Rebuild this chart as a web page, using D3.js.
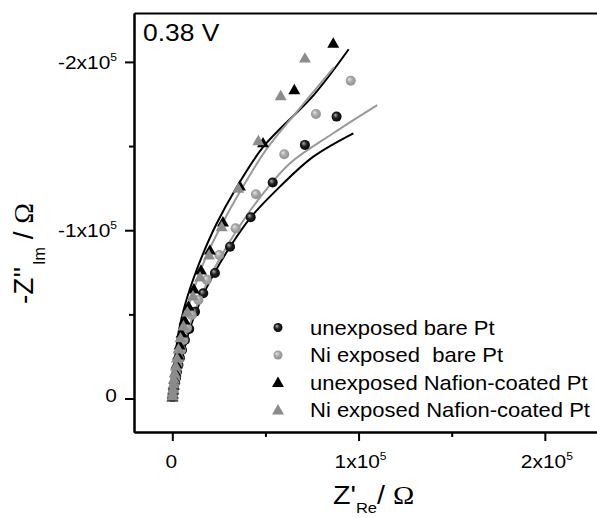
<!DOCTYPE html>
<html>
<head>
<meta charset="utf-8">
<script src="https://d3js.org/d3.v7.min.js"></script>
<style>
body { margin: 0; background: #fff; }
svg { display: block; font-family: "Liberation Sans", Arial, sans-serif; }
text { white-space: pre; }
</style>
</head>
<body>
<svg width="597" height="518"></svg>
<script>
// unexposed bare Pt
var bareUnexpZr = [88200, 71200, 53900, 42100, 31000, 22900, 16600, 12200, 9100, 6800, 5200, 4100, 3300, 2500, 2000, 1400, 900, 600, 400, 100];
var bareUnexpZi = [-167500, -150700, -128300, -107700, -90200, -74600, -62500, -51600, -41300, -34800, -28800, -24100, -19900, -15700, -12200, -9200, -6200, -3900, -2100, -900];
// Ni exposed bare Pt
var bareNiZr = [95800, 77100, 60100, 44900, 34000, 25200, 18500, 14000, 10400, 7900, 6000, 4700, 3600, 2800, 2000, 1500, 900, 500, 300, 100];
var bareNiZi = [-188800, -169000, -145100, -121400, -101100, -85300, -70500, -58600, -49600, -41900, -34800, -28800, -23500, -19300, -15200, -11600, -8000, -5100, -2700, -900];
// unexposed Nafion-coated Pt
var nafUnexpZr = [86400, 65500, 48700, 36300, 27200, 20200, 15400, 11600, 8700, 6600, 5000, 3900, 3100, 2300, 1700, 1200, 800, 500, 300, 100];
var nafUnexpZi = [-211100, -183500, -151900, -126300, -104900, -88200, -76300, -65100, -54900, -46600, -38900, -31800, -25800, -20500, -15700, -11600, -8000, -5100, -2700, -900];
// Ni exposed Nafion-coated Pt
var nafNiZr = [71200, 58200, 46200, 35400, 26500, 19700, 14900, 11100, 8100, 6000, 4400, 3300, 2500, 1900, 1300, 900, 600, 400, 200, 100];
var nafNiZi = [-202300, -179900, -153200, -124900, -102100, -85300, -72200, -60900, -51400, -43100, -36000, -29400, -24100, -19300, -15200, -11600, -8600, -5600, -3300, -1500];

// fitted curves
var fitNafUnexpZr = [94700, 75900, 48900, 33700, 23900, 16600, 11100, 6800, 3600, 1700, 600, 100, 0];
var fitNafUnexpZi = [-207500, -180300, -149600, -123900, -104100, -86300, -70400, -55500, -40700, -25900, -14000, -5100, -300];
var fitNafNiZr = [86800, 68500, 50300, 35300, 25600, 18100, 12700, 8400, 5200, 2500, 1200, 400, 100];
var fitNafNiZi = [-196800, -172600, -147700, -120900, -101300, -84100, -68600, -53800, -39500, -25300, -13400, -5100, -300];
var fitBareNiZr = [110000, 86400, 63200, 45300, 33700, 25100, 18100, 12700, 8400, 5200, 2800, 900, 100];
var fitBareNiZi = [-174300, -157600, -139800, -116900, -98300, -82300, -67500, -53800, -40700, -28800, -16900, -6800, -300];
var fitBareUnexpZr = [97200, 75700, 57800, 41700, 31000, 22900, 17000, 12700, 9200, 6300, 3600, 1400, 100];
var fitBareUnexpZi = [-157600, -143700, -125900, -107100, -90200, -75200, -62700, -51400, -40700, -28800, -16900, -6800, -300];

var legendLabels = ["unexposed bare Pt", "Ni exposed  bare Pt", "unexposed Nafion-coated Pt", "Ni exposed Nafion-coated Pt"];
var xTicks = [0, 100000, 200000];
var xMinor = [50000, 150000];
var yTicks = [0, -100000, -200000];
var yMinor = [-50000, -150000];

var svg = d3.select("svg");

var x = d3.scaleLinear().domain([-20560, 238200]).range([134, 616]);
var y = d3.scaleLinear().domain([19900, -229060]).range([432, 13]);

function zip(a, b) { return a.map(function(v, i) { return [v, b[i]]; }); }

// text is a bit wider than normal in the original
function label(g, px, py, size, anchor) {
    return g.append("text")
        .attr("transform", "translate(" + px + "," + py + ") scale(1.1,1)")
        .attr("font-size", size)
        .attr("text-anchor", anchor || "start");
}

function tickText(t, v) {
    if (v == 0) { t.text("0"); return; }
    var n = v / 100000;
    t.append("tspan").text((n < 0 ? "-" : "") + Math.abs(n) + "x10");
    t.append("tspan").attr("font-size", 11).attr("dy", -8).text("5");
}

var defs = svg.append("defs");
function sphere(id, hi, mid, lo) {
    var gr = defs.append("radialGradient").attr("id", id)
        .attr("cx", "0.5").attr("cy", "0.5").attr("r", "0.6")
        .attr("fx", "0.35").attr("fy", "0.32");
    gr.append("stop").attr("offset", "0").attr("stop-color", hi);
    gr.append("stop").attr("offset", "0.45").attr("stop-color", mid);
    gr.append("stop").attr("offset", "1").attr("stop-color", lo);
}
sphere("ballBlack", "#b0b0b0", "#202020", "#000");
sphere("ballGray", "#e4e4e4", "#a8a8a8", "#8a8a8a");

// axes
var axisG = svg.append("g").attr("stroke-width", 2);
axisG.append("g").attr("transform", "translate(0,432)")
    .call(d3.axisBottom(x).tickValues(xTicks).tickSize(9).tickSizeOuter(0).tickFormat(""));
axisG.append("g").attr("transform", "translate(0,432)")
    .call(d3.axisBottom(x).tickValues(xMinor).tickSize(5).tickSizeOuter(0).tickFormat(""));
axisG.append("g").attr("transform", "translate(134,0)")
    .call(d3.axisLeft(y).tickValues(yTicks).tickSize(9).tickSizeOuter(0).tickFormat(""));
axisG.append("g").attr("transform", "translate(134,0)")
    .call(d3.axisLeft(y).tickValues(yMinor).tickSize(5).tickSizeOuter(0).tickFormat(""));
axisG.append("g").attr("transform", "translate(0,13)")
    .call(d3.axisTop(x).tickValues([]).tickSizeOuter(0));
axisG.selectAll("path, line").attr("stroke", "#000").attr("stroke-width", 2);

var labels = svg.append("g").attr("fill", "#000");
xTicks.forEach(function(v) {
    tickText(label(labels, x(v) + (v == 0 ? -1 : 2), 468, 19, "middle"), v);
});
yTicks.forEach(function(v) {
    tickText(label(labels, 117, y(v) + (v == 0 ? 3 : 7), 19, "end"), v);
});

// axis titles
var xt = label(labels, 333, 504, 26);
xt.append("tspan").text("Z'");
xt.append("tspan").attr("font-size", 15).attr("dy", 9).text("Re");
xt.append("tspan").attr("dy", -9).text("/ ");
xt.append("tspan").attr("font-family", "Liberation Serif, serif").text("Ω");

var yt = labels.append("text")
    .attr("transform", "translate(33,304) rotate(-90)")
    .attr("font-size", 28);
yt.append("tspan").text("-Z''");
yt.append("tspan").attr("font-size", 16).attr("dy", 12).attr("dx", 2).text("Im");
yt.append("tspan").attr("dy", -12).text(" / ");
yt.append("tspan").attr("font-family", "Liberation Serif, serif").text("Ω");

label(labels, 143, 41, 24).text("0.38 V");

// fitted lines go under the markers
var line = d3.line().x(function(d) { return x(d[0]); }).y(function(d) { return y(d[1]); })
    .curve(d3.curveCatmullRom);
var fits = [
    { d: zip(fitBareUnexpZr, fitBareUnexpZi), c: "#000" },
    { d: zip(fitBareNiZr, fitBareNiZi), c: "#999" },
    { d: zip(fitNafUnexpZr, fitNafUnexpZi), c: "#000" },
    { d: zip(fitNafNiZr, fitNafNiZi), c: "#999" }
];
svg.append("g").selectAll("path")
    .data(fits)
    .enter().append("path")
    .attr("d", function(f) { return line(f.d); })
    .attr("fill", "none")
    .attr("stroke", function(f) { return f.c; })
    .attr("stroke-width", 2);

var tri = d3.symbol().type(d3.symbolTriangle).size(62);
var series = [
    { d: zip(bareUnexpZr, bareUnexpZi), shape: "circle", fill: "url(#ballBlack)" },
    { d: zip(bareNiZr, bareNiZi), shape: "circle", fill: "url(#ballGray)" },
    { d: zip(nafUnexpZr, nafUnexpZi), shape: "tri", fill: "#000" },
    { d: zip(nafNiZr, nafNiZi), shape: "tri", fill: "#8c8c8c" }
];

function drawMarker(g, s, px, py, r) {
    if (s.shape == "circle") {
        g.append("circle").attr("cx", px).attr("cy", py).attr("r", r).attr("fill", s.fill);
    } else {
        g.append("path").attr("d", tri).attr("transform", "translate(" + px + "," + (py + 1) + ")")
            .attr("fill", s.fill);
    }
}

var marks = svg.append("g");
series.forEach(function(s) {
    s.d.forEach(function(p) { drawMarker(marks, s, x(p[0]), y(p[1]), 5); });
});

// legend
var legend = svg.append("g");
series.forEach(function(s, i) {
    var ly = 327.5 + i * 27.5;
    drawMarker(legend, s, 278, ly, 4.5);
    label(legend, 310, ly + 7, 20).text(legendLabels[i]);
});
</script>
</body>
</html>
